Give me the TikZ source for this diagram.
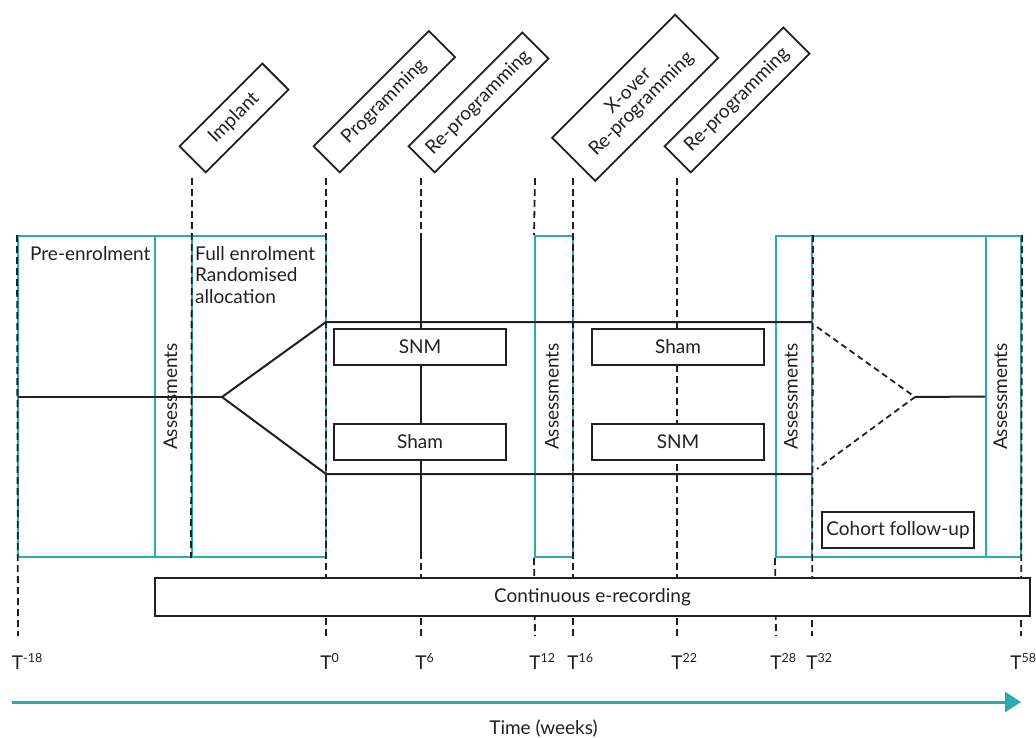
\documentclass[tikz,border=0pt]{standalone}
\usepackage{fontspec}
\setmainfont{Lato}
\usetikzlibrary{arrows.meta}
\definecolor{tealc}{RGB}{42,172,174}
\definecolor{ink}{RGB}{35,31,32}
\newcommand{\tsup}[1]{\rlap{\raisebox{7pt}{\fontsize{12.5}{13}\selectfont #1}}}
\begin{document}
\begin{tikzpicture}[x=1pt,y=-1pt,
  font=\fontsize{19}{21.5}\selectfont,
  tbox/.style={draw=tealc, line width=2pt, inner sep=0pt, minimum height=321},
  wbox/.style={draw=ink, fill=white, line width=2pt, inner sep=0pt, minimum width=172, minimum height=36, text=ink},
  lbl/.style={draw=ink, fill=white, line width=1.8pt, rotate=45, anchor=west, minimum height=37, align=center, inner sep=2pt, text=ink},
  dsh/.style={ink, line width=1.8pt, dash pattern=on 7pt off 4pt},
  sol/.style={ink, line width=2pt},
  asl/.style={rotate=90, text=ink},
  tlab/.style={anchor=base, text=ink}]
\useasboundingbox (0,0) rectangle (1036,738);

% teal boxes
\node[tbox, minimum width=137] (pre)  at (86.5,396.5) {};
\node[tbox, minimum width=37]  (as1)  at (173.5,396.5) {};
\node[tbox, minimum width=134] (full) at (259,396.5) {};
\node[tbox, minimum width=38]  (as2)  at (554,396.5) {};
\node[tbox, minimum width=36]  (as3)  at (794,396.5) {};
\node[tbox, minimum width=174] (coh)  at (899,396.5) {};
\node[tbox, minimum width=35]  (as4)  at (1003.5,396.5) {};

% label boxes
\node[lbl, minimum width=117] (implant) at (192,160) {Implant};
\node[lbl, minimum width=163] (prog)    at (326,160) {Programming};
\node[lbl, minimum width=161] (rprog)   at (421,160) {Re-programming};
\node[lbl, minimum width=174, minimum height=61] (xover) at (573,160) {X-over\\[-3pt]Re-programming};
\node[lbl, minimum width=168] (rprogb)  at (677,160) {Re-programming};

% coordinates of time lines
\coordinate (tI) at (192,178);
\coordinate (tP) at (326,178);  \coordinate (eP) at (326,636);
\coordinate (tR) at (421,178);  \coordinate (eR) at (421,636);
\coordinate (sR1) at (421,236); \coordinate (sR2) at (421,558);
\coordinate (tQ) at (535,178);  \coordinate (eQ) at (535,636);
\coordinate (tX) at (573,178);  \coordinate (eX) at (573,636);
\coordinate (tS) at (677,178);  \coordinate (eS) at (677,636);
\coordinate (eA) at (18,636);
\coordinate (eU) at (776,636);
\coordinate (eV) at (812,636);
\coordinate (eW) at (1021,636);

% dashed time lines
\draw[dsh] (pre.north west) -- (eA);
\draw[dsh] (tI) -- (full.south west);
\draw[dsh] (tP) -- (eP);
\draw[dsh] (tR) -- (eR);
\draw[sol] (sR1) -- (sR2);
\draw[dsh] (tQ) -- (as2.north west);
\draw[dsh] (as2.south west) -- (eQ);
\draw[dsh] (tX) -- (eX);
\draw[dsh] (tS) -- (eS);
\draw[dsh] (as3.south west) -- (eU);
\draw[dsh] (as3.north east) -- (eV);
\draw[dsh] (as4.north east) -- (eW);

% trial arms
\coordinate (start) at (18,397);
\coordinate (split) at (222,397);
\coordinate (armT) at (326,322);
\coordinate (armB) at (326,474);
\coordinate (endT) at (812,322);
\coordinate (endB) at (812,474);
\coordinate (mT) at (817,327);
\coordinate (mB) at (817,469);
\coordinate (merge) at (915,397);
\draw[sol] (start) -- (split);
\draw[sol, line join=round] (split) -- (armT) -- (endT);
\draw[sol, line join=round] (split) -- (armB) -- (endB);
\draw[ink, line width=1.8pt, dash pattern=on 6pt off 4pt] (mT) -- (merge) -- (mB);
\draw[sol] (merge) -- (as4.west);

% arm boxes
\node[wbox] (snma)  at (420,347) {SNM};
\node[wbox] (shama) at (420,442) {Sham};
\node[wbox] (shamb) at (678,347) {Sham};
\node[wbox] (snmb)  at (678,442) {SNM};
\node[wbox, minimum width=152] (cohort) at (898,530) {Cohort follow-up};

% e-recording
\node[wbox, minimum width=875, minimum height=38] (rec) at (592.5,597) {Continuous e-recording};

% texts
\node[anchor=base west, inner sep=0pt, text=ink] (pretxt) at (30,261) {Pre-enrolment};
\node[anchor=north west, align=left, inner sep=0pt, text=ink] (fulltxt) at (195,246) {Full enrolment\\Randomised\\allocation};
\node[asl] (a1) at ([xshift=-3pt]as1.center) {Assessments};
\node[asl] (a2) at ([xshift=-2pt]as2.center) {Assessments};
\node[asl] (a3) at ([xshift=-3pt]as3.center) {Assessments};
\node[asl] (a4) at ([xshift=-3pt]as4.center) {Assessments};

% time labels
\node[tlab] (Tm18) at (17.5,669) {T\tsup{-18}};
\node[tlab] (T0)  at (326,669) {T\tsup{0}};
\node[tlab] (T6)  at (421,669) {T\tsup{6}};
\node[tlab] (T12) at (535,669) {T\tsup{12}};
\node[tlab] (T16) at (573,669) {T\tsup{16}};
\node[tlab] (T22) at (677,669) {T\tsup{22}};
\node[tlab] (T28) at (776,669) {T\tsup{28}};
\node[tlab] (T32) at (812,669) {T\tsup{32}};
\node[tlab] (T58) at (1016,669) {T\tsup{58}};

% time arrow
\coordinate (arrS) at (12,702);
\coordinate (arrE) at (1021,702);
\draw[tealc, line width=3pt, -{Triangle[length=16pt,width=20pt]}] (arrS) -- (arrE);
\node[text=ink] (time) at (543.5,729) {Time (weeks)};
\end{tikzpicture}
\end{document}
